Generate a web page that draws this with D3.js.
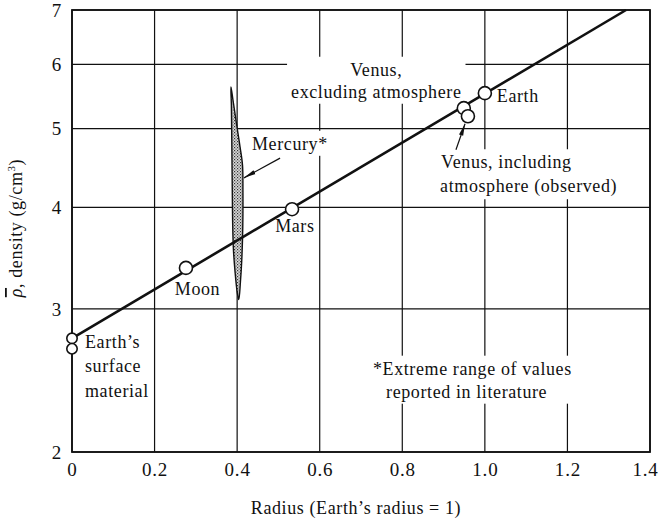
<!DOCTYPE html>
<html>
<head>
<meta charset="utf-8">
<script src="https://cdn.jsdelivr.net/npm/d3@7"></script>
<style>
  html, body { margin: 0; padding: 0; background: #fff; }
  svg { display: block; }
  text { font-family: "Liberation Serif", "DejaVu Serif", serif; fill: #111; }
</style>
</head>
<body>
<svg id="chart" width="658" height="525"></svg>
<script>
// ---------- data ----------
const xTicks = [0, 0.2, 0.4, 0.6, 0.8, 1.0, 1.2, 1.4];
const xTickLabels = ["0", "0.2", "0.4", "0.6", "0.8", "1.0", "1.2", "1.4"];
const yTicks = [2, 3, 4, 5, 6, 7];
const yTickLabels = ["2", "3", "4", "5", "6", "7"];

const pointNames   = ["Earth's surface material (a)", "Earth's surface material (b)", "Moon", "Mars", "Venus, excluding atmosphere", "Venus, including atmosphere", "Earth"];
const pointRadius  = [0, 0, 0.276, 0.533, 0.949, 0.959, 1.0];
const pointDensity = [2.76, 2.68, 3.37, 3.98, 5.30, 5.18, 5.53];

const fitRadius  = [0, 1.342];
const fitDensity = [2.76, 7.0];

// Mercury: extreme range of reported values (outline of the shaded lens)
const mercuryRadius  = [0.385, 0.390, 0.400, 0.407, 0.413, 0.414, 0.414, 0.413, 0.411, 0.408, 0.404,
                        0.400, 0.395, 0.391, 0.389, 0.388, 0.387, 0.386];
const mercuryDensity = [5.63, 5.42, 5.01, 4.75, 4.51, 4.20, 3.92, 3.65, 3.43, 3.24, 3.08,
                        3.15, 3.33, 3.55, 3.86, 4.32, 4.84, 5.35];

// ---------- scales ----------
const svg = d3.select("#chart");
const x = d3.scaleLinear().domain([0, 1.4]).range([72, 650]);
const y = d3.scaleLog().domain([2, 7]).range([452, 10]);

const FS = 18;
const LS = "0.6px";

// stipple pattern for Mercury
const defs = svg.append("defs");
const pat = defs.append("pattern").attr("id", "stipple").attr("patternUnits", "userSpaceOnUse")
  .attr("width", 3).attr("height", 3);
pat.append("rect").attr("width", 3).attr("height", 3).attr("fill", "#d8d8d8");
pat.append("rect").attr("x", 0).attr("y", 0).attr("width", 1.2).attr("height", 1.2).attr("fill", "#333");
pat.append("rect").attr("x", 1.5).attr("y", 1.5).attr("width", 1.2).attr("height", 1.2).attr("fill", "#555");
defs.append("marker").attr("id", "arrow").attr("viewBox", "0 0 12 6").attr("refX", 12).attr("refY", 3)
  .attr("markerWidth", 12).attr("markerHeight", 6).attr("markerUnits", "userSpaceOnUse").attr("orient", "auto")
  .append("path").attr("d", "M0,0.8 L12,3 L0,5.2 Z").attr("fill", "#111");

// ---------- grid ----------
const grid = svg.append("g");
grid.selectAll("line.v").data(xTicks).join("line")
  .attr("x1", d => x(d)).attr("x2", d => x(d))
  .attr("y1", y(2)).attr("y2", y(7))
  .attr("stroke", "#111").attr("stroke-width", 1.2);
grid.selectAll("line.h").data(yTicks).join("line")
  .attr("x1", x(0)).attr("x2", x(1.4))
  .attr("y1", d => y(d)).attr("y2", d => y(d))
  .attr("stroke", "#111").attr("stroke-width", 1.2);

// ---------- axes (labels only) ----------
const xAxis = svg.append("g").attr("transform", `translate(0,${y(2)})`)
  .call(d3.axisBottom(x).tickValues(xTicks).tickFormat((d, i) => xTickLabels[i]).tickSize(0).tickPadding(11));
const yAxis = svg.append("g").attr("transform", `translate(${x(0)},0)`)
  .call(d3.axisLeft(y).tickValues(yTicks).tickFormat((d, i) => yTickLabels[i]).tickSize(0).tickPadding(10));
[xAxis, yAxis].forEach(a => {
  a.select(".domain").remove();
  a.selectAll("text").attr("font-size", 19).attr("font-family", "Liberation Serif, serif")
    .style("letter-spacing", "0.8px").attr("fill", "#111");
});
// last x label sits just inside the page edge
xAxis.selectAll(".tick text").filter((d, i) => i === xTicks.length - 1).attr("x", -5);

// frame
svg.append("rect").attr("x", x(0)).attr("y", y(7))
  .attr("width", x(1.4) - x(0)).attr("height", y(2) - y(7))
  .attr("fill", "none").attr("stroke", "#111").attr("stroke-width", 1.8);

// axis titles
svg.append("text").attr("x", (x(0) + x(1.4)) / 2 - 5).attr("y", 514)
  .attr("text-anchor", "middle").attr("font-size", FS).style("letter-spacing", LS)
  .text("Radius (Earth\u2019s radius = 1)");
const yt = svg.append("text").attr("transform", "translate(22,228) rotate(-90)")
  .attr("text-anchor", "middle").attr("font-size", FS).style("letter-spacing", LS);
yt.append("tspan").attr("font-style", "italic").style("text-decoration", "overline").text("\u03C1");
yt.append("tspan").text(", density (g/cm");
yt.append("tspan").attr("font-size", 11).attr("dy", -7).text("3");
yt.append("tspan").attr("dy", 7).text(")");

// ---------- annotations (text in data coordinates) ----------
const maskLayer = svg.append("g");
const markLayer = svg.append("g");
const textLayer = svg.append("g");

const labels = [
  { lines: ["Earth\u2019s", "surface", "material"], rx: 0.0315, d: 2.686, anchor: "start", lh: 24.5 },
  { lines: ["Moon"], rx: 0.249, d: 3.12, anchor: "start" },
  { lines: ["Mars"], rx: 0.492, d: 3.73, anchor: "start" },
  { lines: ["Mercury*"], rx: 0.436, d: 4.71, anchor: "start", mask: true },
  { lines: ["Venus,", "excluding atmosphere"], rx: 0.737, d: 5.81, anchor: "middle", lh: 22, mask: true },
  { lines: ["Earth"], rx: 1.029, d: 5.39, anchor: "start" },
  { lines: ["Venus, including", "atmosphere (observed)"], rx: 0.894, d: 4.47, anchor: "start", lh: 24, mask: true, indentLast: -1 },
  { lines: ["*Extreme range of values", " reported in literature"], rx: 0.729, d: 2.49, anchor: "start", lh: 23, mask: true, indentLast: 8 }
];

labels.forEach(l => {
  const t = textLayer.append("text").attr("x", x(l.rx)).attr("y", y(l.d))
    .attr("text-anchor", l.anchor).attr("font-size", FS).style("letter-spacing", LS);
  l.lines.forEach((s, i) => {
    t.append("tspan").attr("x", x(l.rx) + (i > 0 && l.indentLast ? l.indentLast : 0))
      .attr("dy", i === 0 ? 0 : (l.lh || 22)).text(s);
  });
  if (l.mask) {
    const b = t.node().getBBox();
    maskLayer.append("rect").attr("x", b.x - 4).attr("y", b.y - 3)
      .attr("width", b.width + 8).attr("height", b.height + 5).attr("fill", "#fff");
  }
});

// Mercury lens
const merc = mercuryRadius.map((r, i) => [x(r), y(mercuryDensity[i])]);
markLayer.append("path").attr("d", d3.line().curve(d3.curveCatmullRomClosed)(merc))
  .attr("fill", "url(#stipple)").attr("stroke", "#111").attr("stroke-width", 1.4);

// fitted line
markLayer.append("path")
  .attr("d", d3.line()(fitRadius.map((r, i) => [x(r), y(fitDensity[i])])))
  .attr("stroke", "#111").attr("stroke-width", 2.6).attr("fill", "none");

// points
markLayer.selectAll("circle").data(pointRadius).join("circle")
  .attr("cx", d => x(d)).attr("cy", (d, i) => y(pointDensity[i]))
  .attr("r", (d, i) => i < 2 ? 5.2 : 6.5)
  .attr("fill", "#fff").attr("stroke", "#111").attr("stroke-width", 1.6);

// arrows (data coordinates: tail -> head)
const arrows = [
  { from: [0.504, 4.60], to: [0.4166, 4.35] },
  { from: [0.930, 4.71], to: [0.952, 5.07] }
];
arrows.forEach(a => {
  markLayer.append("line")
    .attr("x1", x(a.from[0])).attr("y1", y(a.from[1]))
    .attr("x2", x(a.to[0])).attr("y2", y(a.to[1]))
    .attr("stroke", "#111").attr("stroke-width", 1.2).attr("marker-end", "url(#arrow)");
});
</script>
</body>
</html>
